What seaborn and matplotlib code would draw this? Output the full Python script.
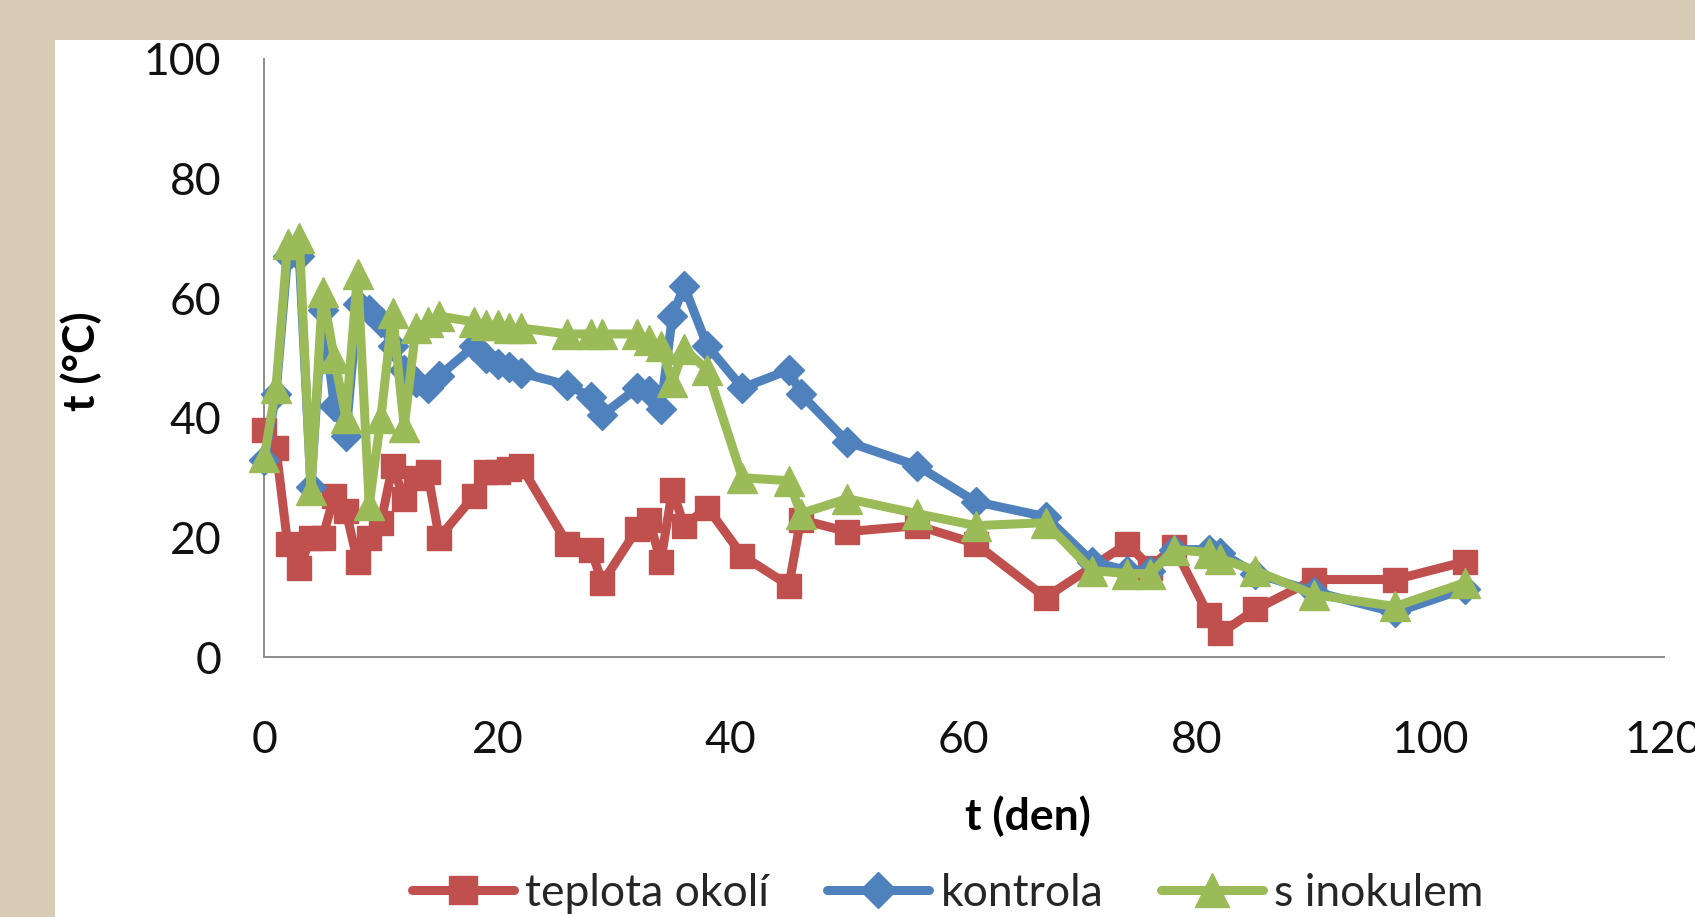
import matplotlib
matplotlib.use("Agg")
import matplotlib.pyplot as plt
from matplotlib.patches import Rectangle
from matplotlib.lines import Line2D
import pandas as pd
import seaborn as sns

# Day of measurement and temperature (°C) for each series
days_okoli = [0, 1, 2, 3, 4, 5, 6, 7, 8, 9, 10, 11, 12, 13, 14, 15, 18, 19, 20, 21, 22,
              26, 28, 29, 32, 33, 34, 35, 36, 38, 41, 45, 46, 50, 56, 61, 67, 74, 76, 78,
              81, 82, 85, 90, 97, 103]
temp_okoli = [38, 35, 19, 15, 20, 20, 27, 24.5, 16, 20, 22.5, 32, 26.5, 30, 31, 20, 27, 31,
              31, 31.5, 32, 19, 18, 12.5, 21.5, 23, 16, 28, 22, 25, 17, 12, 23, 21, 22, 19,
              10, 19, 15, 18.5, 7, 4, 8, 13, 13, 16]

days_kontrola = [0, 1, 2, 3, 4, 5, 6, 7, 8, 9, 10, 11, 12, 13, 14, 15, 18, 19, 20, 21, 22,
                 26, 28, 29, 32, 33, 34, 35, 36, 38, 41, 45, 46, 50, 56, 61, 67, 71, 74, 76,
                 78, 81, 82, 85, 90, 97, 103]
temp_kontrola = [33, 44, 67, 67, 28.5, 58, 42, 37, 59, 58, 56, 52, 48, 46, 45, 47, 52, 50,
                 49, 48.5, 47.5, 45.5, 43.5, 40.5, 45, 44.5, 41.5, 57, 62, 52, 45, 48, 44,
                 36, 32, 26, 23.5, 16, 14.5, 14.5, 18, 18, 17.5, 14, 11, 7.5, 11.5]

days_inokulum = days_kontrola
temp_inokulum = [33.5, 45, 69, 70, 28, 61, 50, 40, 64, 25.5, 40, 57.5, 38.5, 55, 56, 57, 56,
                 55.5, 55.5, 55, 55, 54, 54, 54, 54, 53, 52, 46, 51.5, 48, 30, 29.5, 24,
                 26.5, 24, 22, 22.5, 14.5, 14, 14, 18, 17.5, 16.5, 14.5, 10.5, 8.5, 12.5]

series_names = ["teplota okolí", "kontrola", "s inokulem"]
x_ticks = [0, 20, 40, 60, 80, 100, 120]
y_ticks = [0, 20, 40, 60, 80, 100]
x_label = "t (den)"
y_label = "t (°C)"

RED, BLUE, GREEN = "#C0504D", "#4F81BD", "#9BBB59"
AXIS_GREY = "#8C8C8C"
BACKDROP = "#D8CDB4"
FS = 32

sns.set_theme(style="white")
plt.rcParams["font.family"] = ["Lato", "DejaVu Sans"]

W, H = 1695, 917
fig = plt.figure(figsize=(W / 100, H / 100), dpi=100, facecolor=BACKDROP)

# white slide panel over the backdrop, kept beneath the axes
fig.patches.append(Rectangle((55 / W, 0), 1, 1 - 40 / H, transform=fig.transFigure,
                             facecolor="white", edgecolor="none", zorder=-5))

left, right = 264.3 / W, 1663.5 / W
bottom, top = 1 - 657.4 / H, 1 - 58.5 / H
ax = fig.add_axes([left, bottom, right - left, top - bottom])
ax.set_facecolor("none")
ax.set_zorder(1)

styles = [
    (days_okoli, temp_okoli, RED, "s", 17),
    (days_kontrola, temp_kontrola, BLUE, "D", 15),
    (days_inokulum, temp_inokulum, GREEN, "^", 21),
]
handles = []
for name, (xs, ys, col, mk, ms) in zip(series_names, styles):
    df = pd.DataFrame({"den": xs, "teplota": ys})
    sns.lineplot(data=df, x="den", y="teplota", ax=ax, sort=False, estimator=None,
                 color=col, linewidth=6.5, marker=mk, markersize=ms,
                 markeredgecolor=col, markeredgewidth=1, clip_on=False)
    handles.append(Line2D([], [], color=col, linewidth=6.5, marker=mk, markersize=ms + 3,
                          markeredgecolor=col, label=name))

ax.set_xlim(0, 120)
ax.set_ylim(0, 100)
ax.set_xticks(x_ticks)
ax.set_yticks(y_ticks)
ax.set_xlabel("")
ax.set_ylabel("")
for s in ["top", "right"]:
    ax.spines[s].set_visible(False)
for s in ["left", "bottom"]:
    ax.spines[s].set_color(AXIS_GREY)
    ax.spines[s].set_linewidth(1.4)
    ax.spines[s].set_zorder(0.5)
ax.tick_params(axis="both", direction="out", length=12, width=1.4, color=AXIS_GREY,
               labelsize=FS, labelcolor="#111111")
ax.tick_params(axis="x", pad=33)
ax.tick_params(axis="y", pad=19)

fig.text(81 / W, 1 - 361.5 / H, y_label, rotation=90, ha="center", va="center",
         fontsize=FS, fontweight="bold", color="black")
fig.text(1028 / W, 1 - 816 / H, x_label, ha="center", va="center",
         fontsize=FS, fontweight="bold", color="black")

fig.legend(handles=handles, loc="center", bbox_to_anchor=(948 / W, 1 - 893 / H),
           ncol=3, frameon=False, fontsize=FS, handlelength=2.3, handletextpad=0.25,
           columnspacing=1.3, borderaxespad=0)

fig.savefig("out.png", dpi=100, facecolor=BACKDROP)
